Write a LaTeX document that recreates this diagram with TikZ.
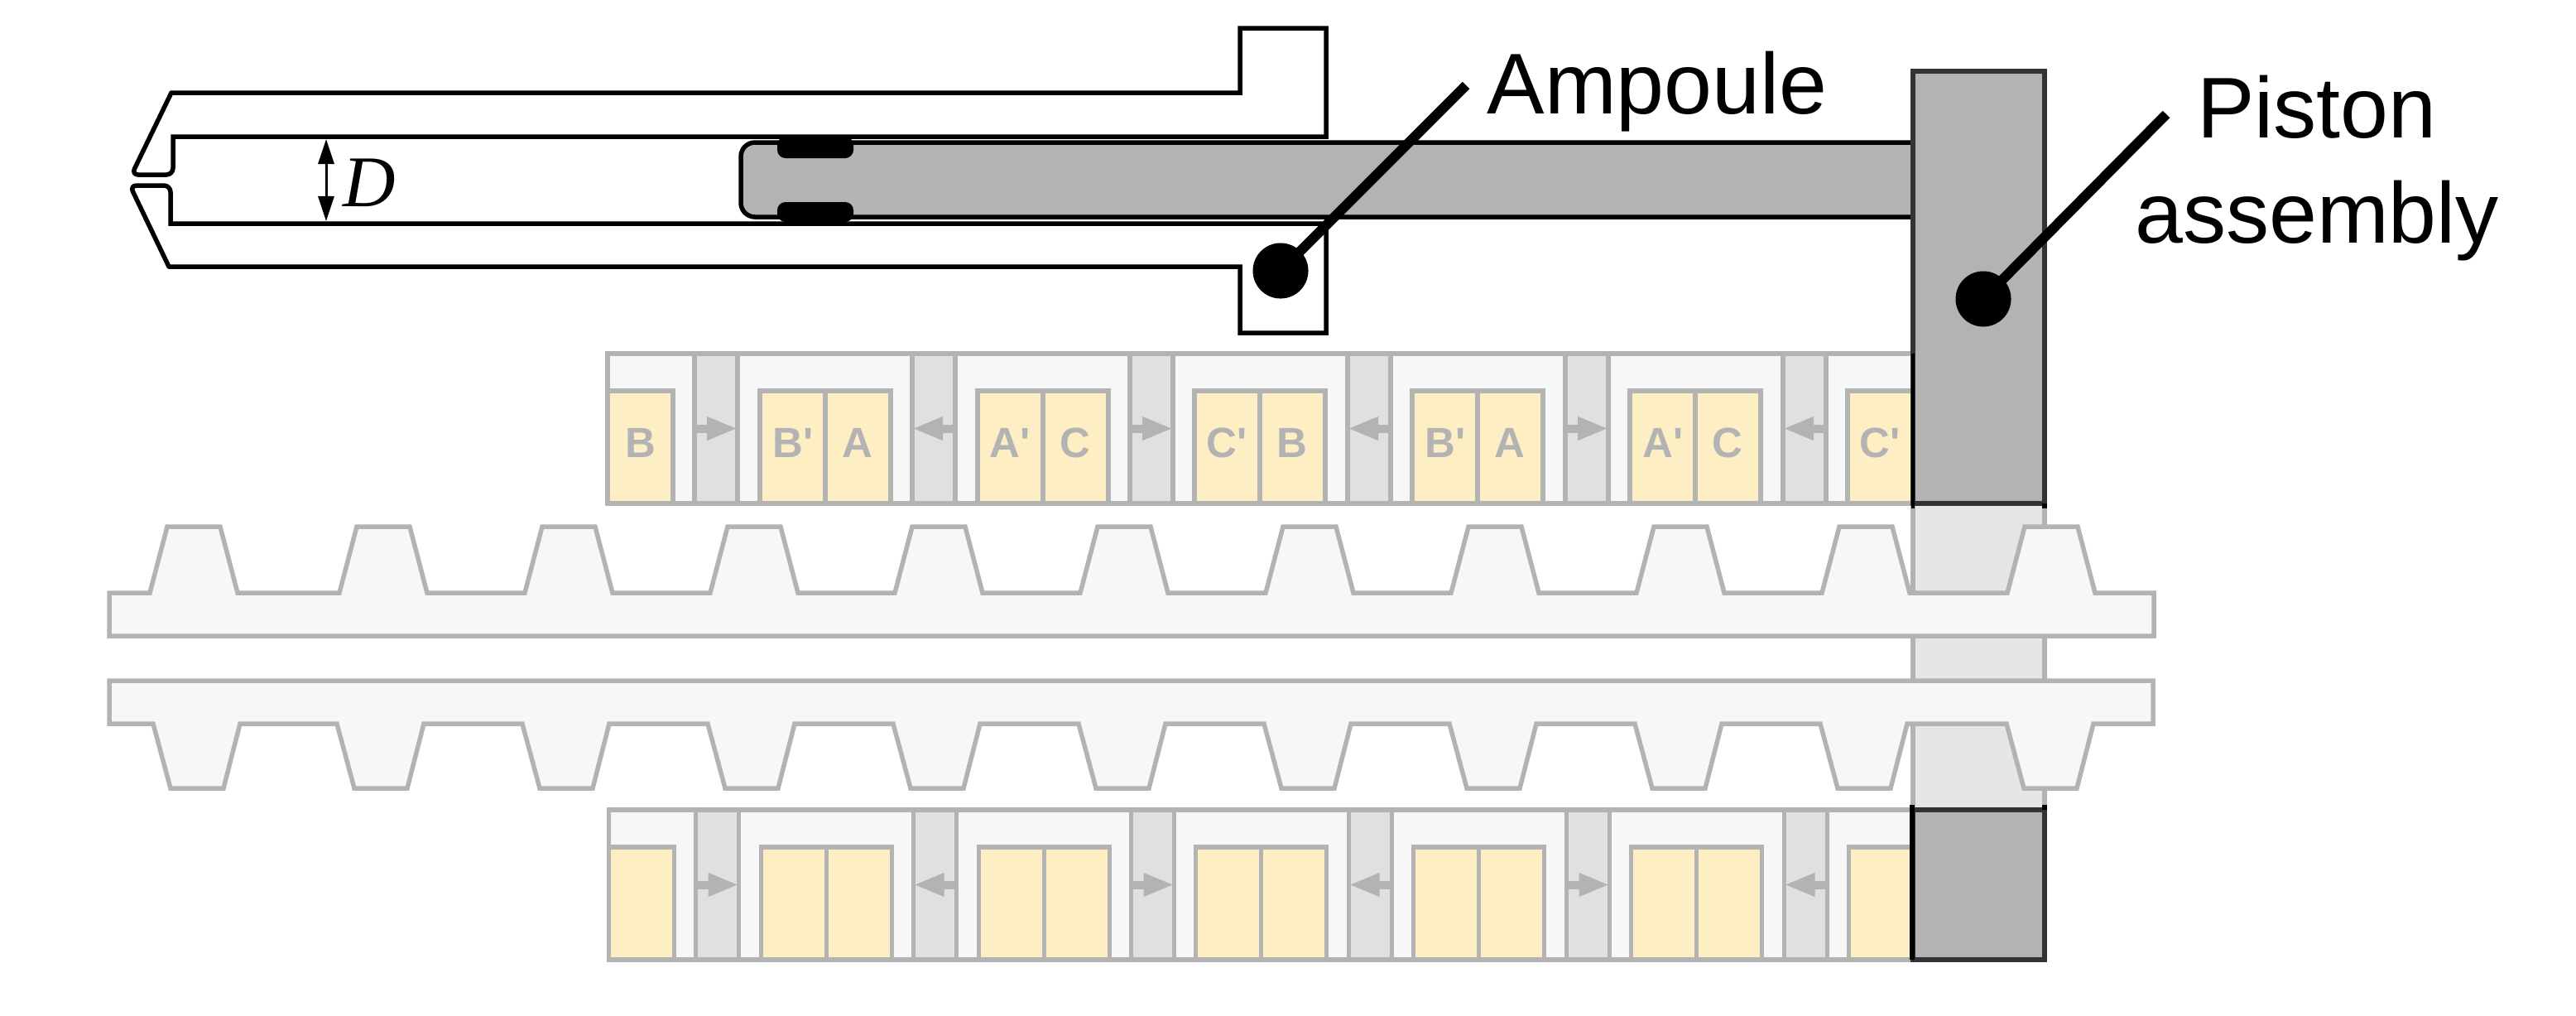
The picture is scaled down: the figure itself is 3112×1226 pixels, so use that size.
\documentclass[tikz,border=0pt]{standalone}
\usepackage{fontspec}
\setmainfont{Liberation Sans}
\newfontfamily\dfont{Liberation Serif}
\newfontfamily\labelfont{Liberation Sans}
\usetikzlibrary{arrows.meta}
\definecolor{fadegray}{RGB}{179,179,179}
\definecolor{rackfill}{RGB}{247,247,247}
\definecolor{sepfill}{RGB}{224,224,224}
\definecolor{pistonfade}{RGB}{230,230,230}
\definecolor{magnetfill}{RGB}{253,238,196}
\definecolor{pistonedge}{RGB}{51,51,51}
\tikzset{
    blackline/.style={line width=0.055cm},
    fadeline/.style={draw=fadegray, line width=0.055cm},
    rackpart/.style={fadeline, fill=rackfill},
    magnet/.style={fadeline, fill=magnetfill},
    sepbar/.style={fadeline, fill=sepfill, minimum width=0.52cm, minimum height=1.8cm, inner sep=0pt, outer sep=0pt},
    flowarrow/.style={draw=fadegray, line width=0.1cm, -{Triangle[length=0.37cm, width=0.26cm]}},
    maglabel/.style={fadegray, anchor=base, inner sep=0pt, font=\fontsize{14.5}{16}\selectfont\labelfont\bfseries},
    calloutdot/.style={circle, fill=black, minimum size=0.67cm, inner sep=0pt},
    callout/.style={line width=0.12cm},
    biglabel/.style={inner sep=0pt, font=\fontsize{29.6}{36.1}\selectfont}
}

\begin{document}
\begin{tikzpicture}[x=0.01cm, y=-0.01cm]
    \useasboundingbox (0,0) rectangle (3112,1226);

    % Ampoule
    \draw[blackline, line cap=round] (207,112) -- (1498,112) -- (1498,34) -- (1602,34) -- (1602,165) -- (209,165)
        [rounded corners=0.08cm] -- (209,211) -- (159,211) -- (207,112);
    \draw[blackline, line cap=round] (204,322) -- (1498,322) -- (1498,402) -- (1602,402) -- (1602,270) -- (206,270)
        [rounded corners=0.08cm] -- (206,224) -- (157,224) -- (204,322);

    % Bore diameter
    \coordinate (boretop) at (394,168);
    \coordinate (borebot) at (394,267);
    \draw[line width=0.03cm, {Triangle[length=0.3cm, width=0.19cm]}-{Triangle[length=0.3cm, width=0.19cm]}] (boretop) -- (borebot);
    \node[inner sep=0pt, font=\fontsize{25}{27}\selectfont\dfont\itshape] (borelabel) at (446,221) {D};

    % Piston rod and seals
    \draw[blackline, fill=fadegray, rounded corners=0.17cm] (2330,172) -- (895,172) -- (895,262) -- (2330,262);
    \fill[rounded corners=0.1cm] (939,165) rectangle (1031,191);
    \fill[rounded corners=0.1cm] (939,244) rectangle (1031,268);

    % Faded part of the piston
    \draw[fadeline, fill=pistonfade] (2311,608) rectangle (2470,978);

    % Upper rack
    \draw[rackpart] (132,716)
        \foreach \t in {202,431,655,879,1102,1326,1550,1774,1998,2222,2446} {
            -- (\t-21,716) -- (\t,636) -- (\t+64,636) -- (\t+85,716)
        } -- (2602,716) -- (2602,768) -- (132,768) -- cycle;

    % Lower rack
    \draw[rackpart] (132,822) -- (2601,822) -- (2601,874)
        \foreach \t in {2445,2220,1996,1772,1548,1324,1100,876,652,428,206} {
            -- (\t+84,874) -- (\t+64,952) -- (\t,952) -- (\t-21,874)
        } -- (132,874) -- cycle;

    % Stator rows
    \foreach \row/\dx/\dy in {up/0/0, low/1.5/551} {
        \begin{scope}[shift={(\dx,\dy)}]
            \draw[rackpart] (734,427) rectangle (2311,608);
            \draw[magnet] (734,472) rectangle (813,608);
            \foreach \xa in {918,1181,1443,1706,1969} {
                \draw[magnet] (\xa,472) rectangle (\xa+79,608);
                \draw[magnet] (\xa+79,472) rectangle (\xa+158,608);
            }
            \draw[magnet] (2232,472) rectangle (2311,608);
            \foreach \i/\xs/\from/\to in {1/865/west/east, 2/1128/east/west, 3/1391/west/east, 4/1654/east/west, 5/1917/west/east, 6/2180/east/west} {
                \node[sepbar] (sep\row\i) at (\xs,517.5) {};
                \draw[flowarrow] (sep\row\i.\from) -- (sep\row\i.\to);
            }
        \end{scope}
    }

    % Magnet labels, top row only
    \foreach \xl/\txt in {774/B, 958/B', 1036/A, 1220/A', 1299/C, 1482/C', 1561/B, 1746/B', 1824/A, 2009/A', 2087/C, 2271/C'} {
        \node[maglabel] at (\xl,552) {\txt};
    }

    % Piston assembly
    \draw[blackline, draw=pistonedge, fill=fadegray] (2311,86) rectangle (2470,608);
    \draw[blackline, draw=pistonedge, fill=fadegray] (2311,978) rectangle (2470,1159);
    \draw[line width=0.04cm] (2311,427) -- (2311,614);
    \draw[line width=0.06cm] (2310,972) -- (2310,1159);
    \draw[blackline] (2470,608) -- (2470,614);
    \draw[blackline] (2470,972) -- (2470,978);

    % Labels
    \node[calloutdot] (ampouledot) at (1547,327) {};
    \coordinate (ampouleend) at (1771,103);
    \draw[callout] (ampouledot.center) -- (ampouleend);
    \node[biglabel, anchor=base west] (ampoulelabel) at (1796,137) {Ampoule};

    \node[calloutdot] (pistondot) at (2396,361) {};
    \coordinate (pistonend) at (2617,138);
    \draw[callout] (pistondot.center) -- (pistonend);
    \node[biglabel, align=center] (pistonlabel) at (2799,203) {Piston\\assembly};
\end{tikzpicture}
\end{document}
